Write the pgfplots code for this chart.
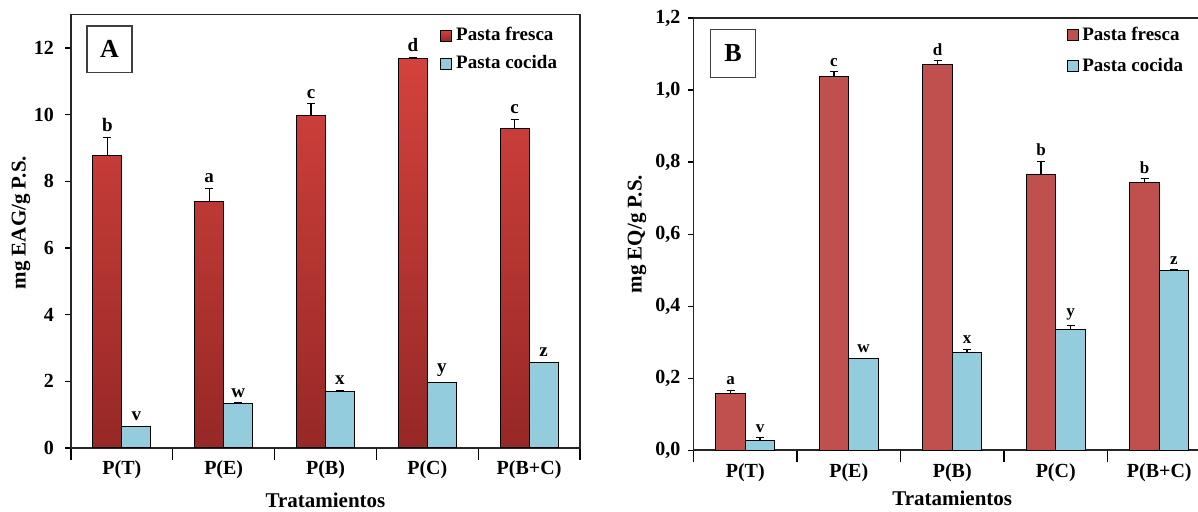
\documentclass[border=0pt]{standalone}
\usepackage{pgfplots}
\pgfplotsset{compat=1.18}
\usepackage{pgfplotstable}
\usepackage{fontspec}
\setmainfont{Liberation Serif}

\definecolor{redtop}{RGB}{212,66,61}
\definecolor{redbot}{RGB}{150,40,38}
\definecolor{redB}{RGB}{192,80,77}
\definecolor{blueC}{RGB}{147,205,221}

\pgfplotstableread{
x f ef lf c ec lc
0 8.78 0.55 b 0.64 0.02 v
1 7.40 0.39 a 1.34 0.02 w
2 9.97 0.36 c 1.70 0.03 x
3 11.69 0.03 d 1.95 0.02 y
4 9.58 0.29 c 2.56 0.02 z
}\dataA

\pgfplotstableread{
x f ef lf c ec lc
0 0.157 0.010 a 0.026 0.009 v
1 1.037 0.014 c 0.254 0.002 w
2 1.070 0.011 d 0.271 0.010 x
3 0.766 0.037 b 0.335 0.012 y
4 0.744 0.010 b 0.500 0.002 z
}\dataB

\pgfplotsset{
  common/.style={
    scale only axis,
    anchor=south west,
    xmin=-0.5, xmax=4.5, ymin=0,
    axis line style={black!85, line width=0.8pt},
    xtick={0,1,2,3,4},
    xticklabels={P(T),P(E),P(B),P(C),P(B+C)},
    minor xtick={-0.5,0.5,1.5,2.5,3.5,4.5},
    major x tick style={draw=none},
    minor x tick style={black, line width=0.6pt},
    y tick style={black, line width=0.6pt},
    tick align=outside,
    tick pos=left,
    major tick length=3pt,
    minor tick length=6pt,
    ticklabel style={font=\fontsize{10}{12}\selectfont\bfseries},
    /pgf/number format/assume math mode=true,
    label style={font=\fontsize{10.5}{12}\selectfont\bfseries},
    legend style={draw=none, fill=none, font=\fontsize{9.5}{11}\selectfont\bfseries,
      anchor=north west, row sep=2pt, inner sep=0pt},
    legend cell align=left,
    legend image code/.code={\draw[#1, draw=black, line width=0.4pt] (0pt,-2.75pt) rectangle (5.5pt,2.75pt);},
    clip=false,
  },
  errs/.style={forget plot, draw=none, mark=none,
    error bars/.cd, y dir=plus, y explicit, error bar style={draw=black, line width=0.6pt}},
  lets/.style={forget plot, draw=none, mark=none,
    nodes near coords, point meta=explicit symbolic,
    nodes near coords style={font=\fontsize{#1}{11}\selectfont\bfseries, text=black, anchor=south, inner sep=2.5pt}},
}

\begin{document}
\begin{tikzpicture}
\useasboundingbox (0,0) rectangle (599pt,256pt);
\clip (0,0) rectangle (599pt,256pt);

% ---------------- Panel A ----------------
\begin{axis}[common,
  at={(35.5pt,32pt)}, width=254.5pt, height=216.65pt,
  ymax=13, ytick={0,2,4,6,8,10,12},
  yticklabel style={xshift=-2pt},
  ylabel={mg EAG/g P.S.},
  xlabel={Tratamientos},
  y label style={at={(axis description cs:-0.098,0.52)}, anchor=center},
  x label style={at={(axis description cs:0.5,-0.12)}, anchor=center},
  legend style={at={(rel axis cs:0.725,0.981)}},
]
\addplot[ybar, bar width=14.5pt, bar shift=-7.25pt, draw=black, line width=0.5pt,
  top color=redtop, bottom color=redbot] table[x=x,y=f]{\dataA};
\addlegendentry{Pasta fresca}
\addplot[ybar, bar width=14.5pt, bar shift=7.25pt, draw=black, line width=0.5pt,
  fill=blueC] table[x=x,y=c]{\dataA};
\addlegendentry{Pasta cocida}

\addplot[errs] table[x expr=\thisrow{x}-0.1424, y=f, y error=ef]{\dataA};
\addplot[errs] table[x expr=\thisrow{x}+0.1424, y=c, y error=ec]{\dataA};
\addplot[lets=9.5] table[x expr=\thisrow{x}-0.1424, y expr=\thisrow{f}+\thisrow{ef}, meta=lf]{\dataA};
\addplot[lets=9.5] table[x expr=\thisrow{x}+0.1424, y expr=\thisrow{c}+\thisrow{ec}, meta=lc]{\dataA};

\node[draw=black!75, line width=0.8pt, fill=white, minimum width=22.5pt, minimum height=23.3pt,
  inner sep=0pt, font=\fontsize{13}{15}\selectfont\bfseries] at (rel axis cs:0.0756,0.920) {A};
\end{axis}

% ---------------- Panel B ----------------
\begin{axis}[common,
  at={(346.75pt,30.85pt)}, width=258.75pt, height=216.15pt,
  ymax=1.2, ytick={0,0.2,0.4,0.6,0.8,1.0,1.2},
  yticklabel style={/pgf/number format/.cd, fixed, fixed zerofill, precision=1, use comma},
  ylabel={mg EQ/g P.S.},
  xlabel={Tratamientos},
  y label style={at={(axis description cs:-0.109,0.5)}, anchor=center},
  x label style={at={(axis description cs:0.5,-0.112)}, anchor=center},
  legend style={at={(rel axis cs:0.72,0.99)}, row sep=3.5pt},
]
\addplot[ybar, bar width=14.75pt, bar shift=-7.375pt, draw=black, line width=0.5pt,
  fill=redB] table[x=x,y=f]{\dataB};
\addlegendentry{Pasta fresca}
\addplot[ybar, bar width=14.75pt, bar shift=7.375pt, draw=black, line width=0.5pt,
  fill=blueC] table[x=x,y=c]{\dataB};
\addlegendentry{Pasta cocida}

\addplot[errs] table[x expr=\thisrow{x}-0.1425, y=f, y error=ef]{\dataB};
\addplot[errs] table[x expr=\thisrow{x}+0.1425, y=c, y error=ec]{\dataB};
\addplot[lets=8.5] table[x expr=\thisrow{x}-0.1425, y expr=\thisrow{f}+\thisrow{ef}, meta=lf]{\dataB};
\addplot[lets=8.5] table[x expr=\thisrow{x}+0.1425, y expr=\thisrow{c}+\thisrow{ec}, meta=lc]{\dataB};

\node[draw=black!75, line width=0.8pt, fill=white, minimum width=22.5pt, minimum height=24pt,
  inner sep=0pt, font=\fontsize{13}{15}\selectfont\bfseries] at (rel axis cs:0.0763,0.918) {B};
\end{axis}
\end{tikzpicture}
\end{document}
